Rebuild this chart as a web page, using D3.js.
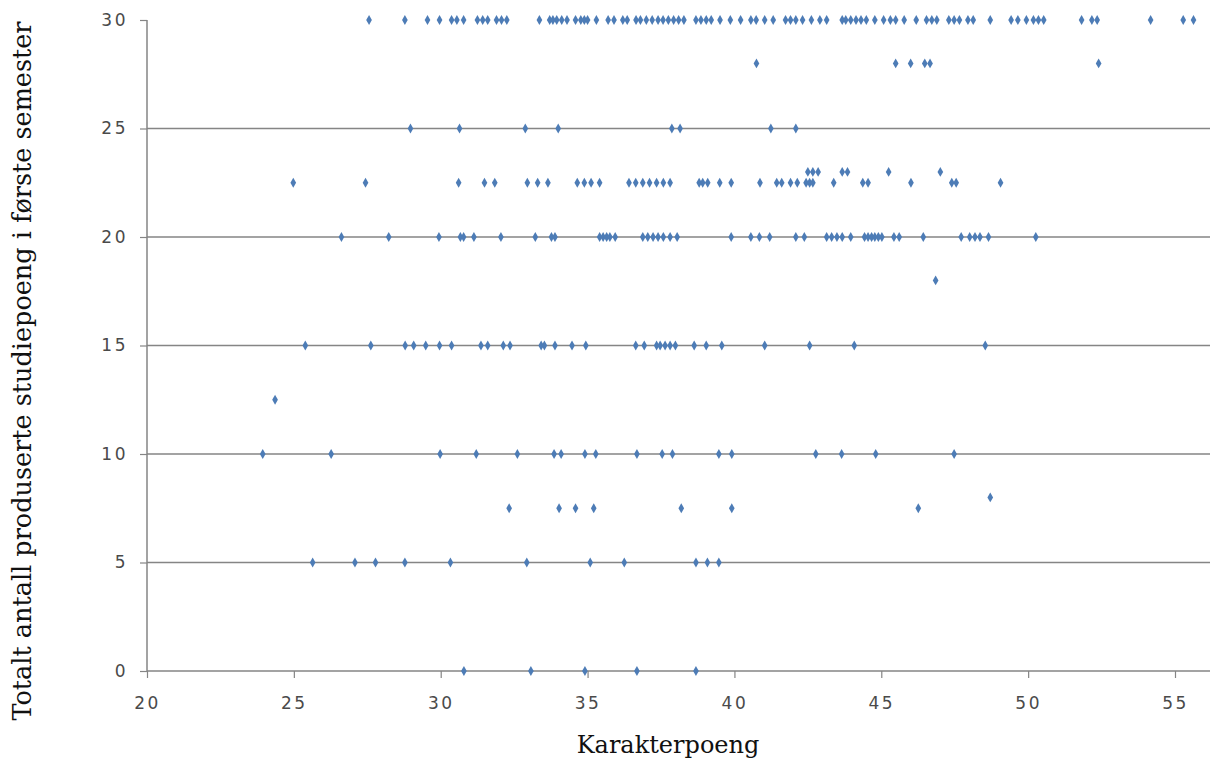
<!DOCTYPE html>
<html><head><meta charset="utf-8">
<script src="https://cdn.jsdelivr.net/npm/d3@7"></script>
<style>
html,body{margin:0;padding:0;background:#fff;}
</style></head>
<body>
<svg id="chart" width="1210" height="762"></svg>
<script>
// ---- data: Karakterpoeng (x) for each level of studiepoeng (y) ----
const xAt30 = [27.56,28.78,29.55,29.96,30.37,30.55,30.78,31.25,31.43,31.6,31.9,32.07,32.25,33.36,33.71,33.82,33.95,34.12,34.3,34.59,34.77,34.89,35.0,35.3,35.7,35.9,36.2,36.35,36.65,36.8,37.0,37.2,37.4,37.57,37.75,37.93,38.1,38.28,38.69,38.86,39.04,39.21,39.51,39.86,40.21,40.56,40.74,41.03,41.32,41.74,41.91,42.09,42.32,42.62,42.91,43.14,43.67,43.79,43.96,44.14,44.31,44.49,44.78,45.08,45.31,45.49,45.78,46.19,46.54,46.72,46.89,47.3,47.48,47.66,47.95,48.13,48.71,49.42,49.65,49.94,50.18,50.35,50.53,51.82,52.17,52.35,54.17,55.28,55.63];
const xAt28 = [40.75,45.49,46.0,46.48,46.66,52.4];
const xAt25 = [28.97,30.64,32.88,34.0,37.87,38.15,41.24,42.09];
const xAt23 = [42.5,42.67,42.85,43.67,43.85,45.25,47.01];
const xAt22_5 = [24.98,27.44,30.61,31.49,31.84,32.95,33.3,33.65,34.65,34.89,35.12,35.41,36.41,36.64,36.88,37.11,37.35,37.58,37.81,38.8,38.92,39.09,39.5,39.89,40.87,41.44,41.61,41.91,42.14,42.44,42.56,42.67,43.38,44.37,44.55,46.01,47.4,47.55,49.06];
const xAt20 = [26.62,28.23,29.94,30.67,30.78,31.13,32.05,33.22,33.77,33.89,35.41,35.53,35.65,35.76,35.94,36.88,37.05,37.23,37.4,37.58,37.81,38.05,39.89,40.56,40.85,41.2,42.09,42.38,43.14,43.31,43.49,43.67,43.96,44.43,44.55,44.67,44.78,44.9,45.02,45.43,45.61,46.43,47.72,48.01,48.19,48.36,48.65,50.26];
const xAt18 = [46.85];
const xAt15 = [25.39,27.62,28.79,29.08,29.49,29.96,30.37,31.37,31.6,32.13,32.36,33.42,33.53,33.89,34.47,34.94,36.64,36.93,37.35,37.47,37.64,37.81,37.99,38.63,39.04,39.57,41.03,42.56,44.08,48.54];
const xAt12_5 = [24.36];
const xAt10 = [23.94,26.27,29.98,31.21,32.61,33.86,34.1,34.91,35.28,36.68,37.54,37.89,39.47,39.91,42.77,43.65,44.81,47.48];
const xAt8 = [48.71];
const xAt7_5 = [32.33,34.03,34.59,35.21,38.19,39.91,46.26];
const xAt5 = [25.64,27.08,27.78,28.78,30.33,32.93,35.09,36.25,38.69,39.08,39.47];
const xAt0 = [30.79,33.07,34.91,36.68,38.69];

const levels = [30,28,25,23,22.5,20,18,15,12.5,10,8,7.5,5,0];
const levelX = [xAt30,xAt28,xAt25,xAt23,xAt22_5,xAt20,xAt18,xAt15,xAt12_5,xAt10,xAt8,xAt7_5,xAt5,xAt0];

const xTicks = [20,25,30,35,40,45,50,55];
const yTicks = [0,5,10,15,20,25,30];
const xTitle = "Karakterpoeng";
const yTitle = "Totalt antall produserte studiepoeng i første semester";

const points = [];
levels.forEach((lv,i)=>levelX[i].forEach(v=>points.push({x:v,y:lv})));

// ---- layout ----
const svg = d3.select("#chart");
const x = d3.scaleLinear().domain([20,55]).range([147,1175]);
const y = d3.scaleLinear().domain([0,30]).range([671,20]);
const rightEdge = 1210;
const gridCol = "#858585";

// gridlines
svg.append("g").selectAll("line").data(yTicks.filter(t=>t>0 && t<30)).join("line")
  .attr("x1",x(20)).attr("x2",rightEdge)
  .attr("y1",d=>y(d)).attr("y2",d=>y(d))
  .attr("stroke",gridCol).attr("stroke-width",1.5);

// x axis
const gx = svg.append("g").attr("transform",`translate(0,${y(0)})`)
  .call(d3.axisBottom(x).tickValues(xTicks).tickSize(7).tickPadding(19).tickFormat(d3.format("d")));
gx.select(".domain").attr("d",`M${x(20)},0H${rightEdge}`).attr("stroke",gridCol).attr("stroke-width",1.5);
gx.selectAll(".tick line").attr("stroke",gridCol).attr("stroke-width",1.2);
gx.selectAll("text").attr("font-family","'DejaVu Sans', Verdana, sans-serif").attr("font-size",17)
  .attr("letter-spacing",2.5).attr("fill","#4a4a4a");

// y axis
const gy = svg.append("g").attr("transform",`translate(${x(20)},0)`)
  .call(d3.axisLeft(y).tickValues(yTicks).tickSize(7).tickPadding(12).tickFormat(d3.format("d")));
gy.select(".domain").attr("d",`M0,${y(30)}V${y(0)}`).attr("stroke",gridCol).attr("stroke-width",1.5);
gy.selectAll(".tick line").attr("stroke",gridCol).attr("stroke-width",1.2);
gy.selectAll("text").attr("font-family","'DejaVu Sans', Verdana, sans-serif").attr("font-size",17)
  .attr("letter-spacing",2.5).attr("fill","#4a4a4a");

// points
const sym = d3.symbol().type(d3.symbolDiamond).size(28);
svg.append("g").selectAll("path").data(points).join("path")
  .attr("d",sym)
  .attr("transform",d=>`translate(${x(d.x)},${y(d.y)})`)
  .attr("fill","#4d7cb6");

// titles
svg.append("text").attr("x",668).attr("y",753).attr("text-anchor","middle")
  .attr("font-family","'DejaVu Serif', serif").attr("font-size",24).attr("fill","#111")
  .text(xTitle);
svg.append("text").attr("transform","translate(31,371) rotate(-90)").attr("text-anchor","middle")
  .attr("font-family","'DejaVu Serif', serif").attr("font-size",25.5).attr("fill","#111")
  .text(yTitle);
</script>
</body></html>
